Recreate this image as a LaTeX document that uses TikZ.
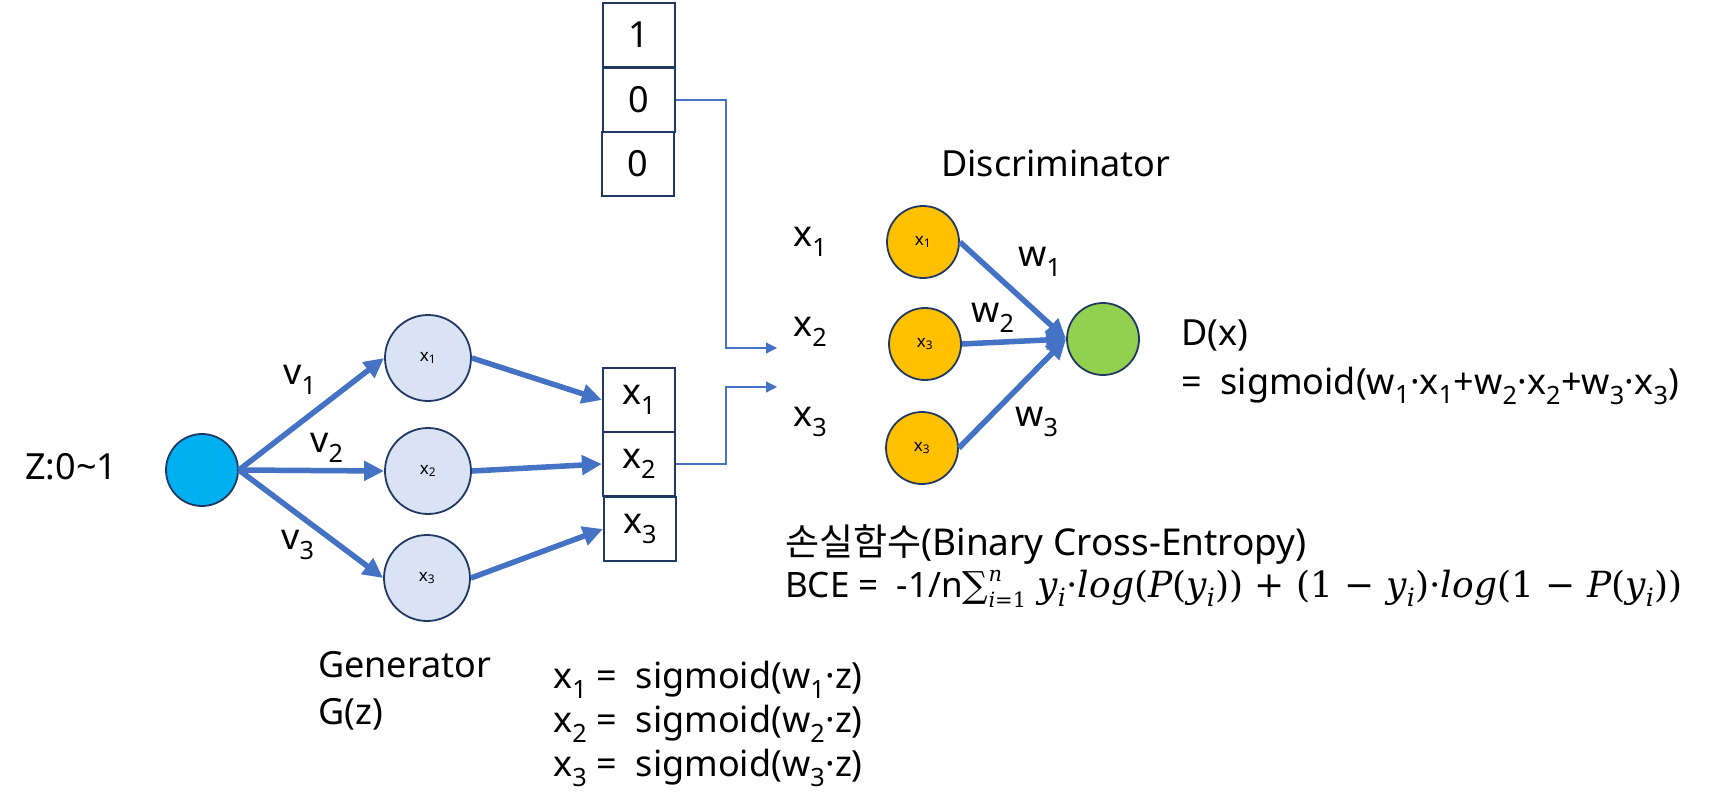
\documentclass[tikz,border=0pt]{standalone}
\usepackage[no-math]{fontspec}
\setmainfont{Noto Sans}
\newfontfamily\cjk{Noto Sans CJK KR}
\newfontfamily\mserif{DejaVu Serif}
\usetikzlibrary{arrows.meta}
\definecolor{arrowblue}{HTML}{4472C4}
\definecolor{navy}{HTML}{1F3864}
\definecolor{zcyan}{HTML}{00B0F0}
\definecolor{genfill}{HTML}{DAE3F3}
\definecolor{discfill}{HTML}{FFC000}
\definecolor{outgreen}{HTML}{92D050}
\newcommand{\sbs}[1]{\textsubscript{#1}}
\newcommand{\iv}[1]{{\itshape #1}}
\newcommand{\yi}{\iv{y}\textsubscript{\iv{i}}}
\begin{document}
\begin{tikzpicture}[x=1pt,y=-1pt,
  big/.style={font=\fontsize{36}{42}\selectfont, inner sep=0pt},
  small/.style={font=\fontsize{17}{20}\selectfont},
  neuron/.style={circle, draw=navy, line width=1.8pt, minimum size=#1, inner sep=0pt},
  cell/.style={draw=navy, line width=2.2pt, minimum width=72pt, minimum height=64pt, inner sep=0pt, font=\fontsize{36}{42}\selectfont},
  thickarrow/.style={draw=arrowblue, line width=5.5pt, -{Triangle[length=20pt,width=19pt]}},
  thinarrow/.style={draw=arrowblue, line width=1.2pt, -{Triangle[length=11pt,width=11pt]}},
]
\useasboundingbox (0,0) rectangle (1720,808);

% generator
\node[neuron=72pt, fill=zcyan] (z) at (202,470) {};
\node[neuron=86pt, fill=genfill, small] (g1) at (428,358) {x\sbs{1}};
\node[neuron=86pt, fill=genfill, small] (g2) at (428,471) {x\sbs{2}};
\node[neuron=86pt, fill=genfill, small] (g3) at (427,578) {x\sbs{3}};

% cells
\node[cell] (c1) at (639,35) {1};
\node[cell] (c2) at (639,100) {0};
\node[cell] (c3) at (638,164) {0};
\node[cell] (b1) at (639,400) {x\sbs{1}};
\node[cell] (b2) at (639,464) {x\sbs{2}};
\node[cell] (b3) at (640,529) {x\sbs{3}};

% discriminator
\node[neuron=72pt, fill=discfill, small] (d1) at (923,242) {x\sbs{1}};
\node[neuron=72pt, fill=discfill, small] (d2) at (925,344) {x\sbs{3}};
\node[neuron=72pt, fill=discfill, small] (d3) at (922,448) {x\sbs{3}};
\node[neuron=72pt, fill=outgreen] (out) at (1103,339) {};

% labels
\node[big, anchor=west] (zl) at (25,467) {Z:0\textasciitilde1};
\node[big] (v1) at (300,380) {v\sbs{1}};
\node[big] (v2) at (327,448) {v\sbs{2}};
\node[big] (v3) at (298,545) {v\sbs{3}};
\node[big, anchor=west] (ix1) at (793,242) {x\sbs{1}};
\node[big, anchor=west] (ix2) at (793,332) {x\sbs{2}};
\node[big, anchor=west] (ix3) at (793,422) {x\sbs{3}};
\node[big, anchor=west] (disc) at (941,163) {Discriminator};
\node[big] (w1) at (1040,262) {w\sbs{1}};
\node[big] (w2) at (993,318) {w\sbs{2}};
\node[big] (w3) at (1037,422) {w\sbs{3}};
\node[big, anchor=west, align=left, font=\fontsize{36}{49}\selectfont] (dx) at (1181,362) {D(x)\\= \ sigmoid(w\sbs{1}·x\sbs{1}+w\sbs{2}·x\sbs{2}+w\sbs{3}·x\sbs{3})};
\node[big, anchor=west, align=left, font=\fontsize{36}{47}\selectfont] (gen) at (318,691) {Generator\\G(z)};
\node[big, anchor=west, align=left, font=\fontsize{36}{44}\selectfont] (sig) at (553,724) {x\sbs{1} = \ sigmoid(w\sbs{1}·z)\\x\sbs{2} = \ sigmoid(w\sbs{2}·z)\\x\sbs{3} = \ sigmoid(w\sbs{3}·z)};
\node[big, anchor=base west, font=\fontsize{37}{40}\selectfont] (loss) at (785,555) {{\cjk 손실함수}(Binary Cross-Entropy)};
\node[big, anchor=base west, font=\fontsize{35}{40}\selectfont] (bce) at (785,597) {BCE = \ -1/n{\mserif\fontsize{36}{38}\selectfont ∑\rlap{\raisebox{0.42em}{\fontsize{21}{21}\selectfont\itshape n}}\raisebox{-0.3em}{\fontsize{21}{21}\selectfont\itshape i\upshape=1} \yi·\iv{log}(\iv{P}(\yi)) + (1 − \yi)·\iv{log}(1 − \iv{P}(\yi))}};

% thick arrows
\draw[thickarrow] (z.east) -- (g1.west);
\draw[thickarrow] (z.east) -- (g2.west);
\draw[thickarrow] (z.east) -- (g3.west);
\draw[thickarrow] (g1.east) -- (b1.west);
\draw[thickarrow] (g2.east) -- (b2.west);
\draw[thickarrow] (g3.east) -- (b3.west);
\draw[thickarrow] (d1.east) -- (out.west);
\draw[thickarrow] (d2.east) -- (out.west);
\draw[thickarrow] (d3.east) -- (out.west);

% thin connectors
\coordinate (t1) at (777,348);
\coordinate (t2) at (777,387);
\coordinate (j) at (726,0);
\draw[thinarrow] (c2.east) -| (j |- t1) -- (t1);
\draw[thinarrow] (b2.east) -| (j |- t2) -- (t2);
\end{tikzpicture}
\end{document}
